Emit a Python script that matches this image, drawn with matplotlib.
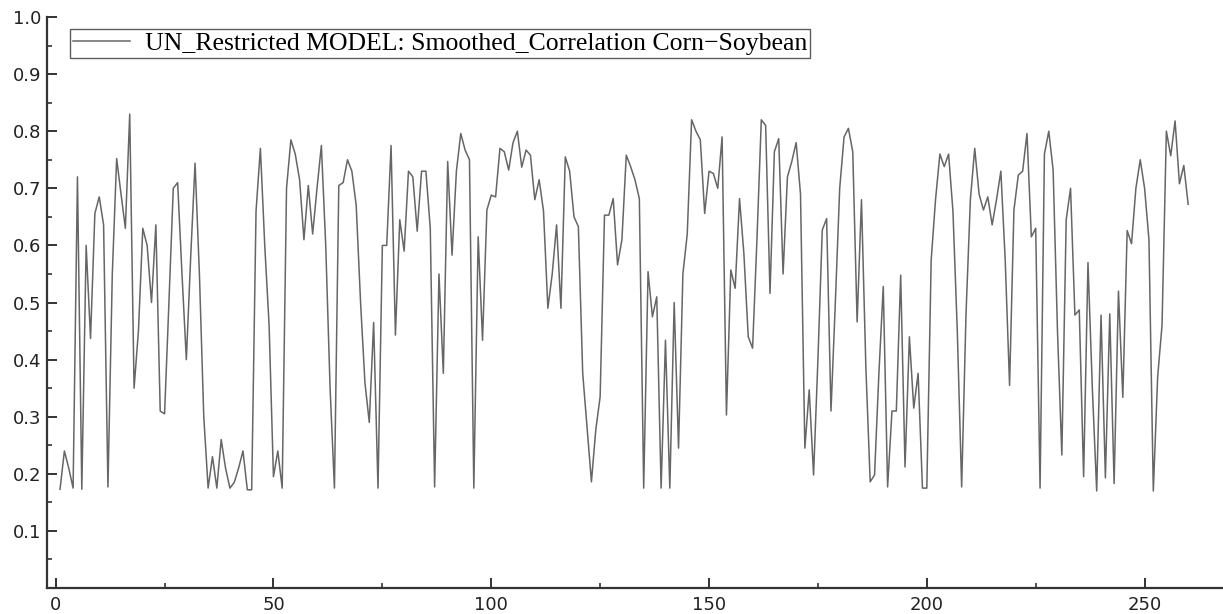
import matplotlib
matplotlib.use("Agg")
import matplotlib.pyplot as plt
from matplotlib.ticker import MultipleLocator
import numpy as np

# smoothed correlation, t = 1 .. 260
corr = [
    0.173, 0.24, 0.21, 0.175, 0.72, 0.173, 0.60, 0.437, 0.656, 0.685,    # 1-10
    0.636, 0.177, 0.55, 0.752, 0.69, 0.63, 0.83, 0.35, 0.45, 0.63,       # 11-20
    0.60, 0.50, 0.636, 0.31, 0.305, 0.50, 0.70, 0.71, 0.55, 0.40,        # 21-30
    0.58, 0.744, 0.55, 0.30, 0.175, 0.23, 0.175, 0.26, 0.21, 0.175,      # 31-40
    0.185, 0.21, 0.24, 0.172, 0.172, 0.66, 0.77, 0.60, 0.46, 0.195,      # 41-50
    0.24, 0.175, 0.70, 0.785, 0.76, 0.715, 0.61, 0.705, 0.62, 0.70,      # 51-60
    0.775, 0.60, 0.35, 0.175, 0.705, 0.71, 0.75, 0.73, 0.67, 0.50,       # 61-70
    0.36, 0.29, 0.465, 0.175, 0.60, 0.60, 0.775, 0.443, 0.645, 0.59,     # 71-80
    0.73, 0.72, 0.625, 0.73, 0.73, 0.63, 0.177, 0.55, 0.376, 0.747,      # 81-90
    0.583, 0.73, 0.796, 0.767, 0.75, 0.175, 0.615, 0.434, 0.662, 0.688,  # 91-100
    0.685, 0.77, 0.764, 0.732, 0.78, 0.80, 0.737, 0.767, 0.758, 0.68,    # 101-110
    0.715, 0.66, 0.49, 0.55, 0.636, 0.49, 0.755, 0.73, 0.65, 0.633,      # 111-120
    0.376, 0.28, 0.186, 0.277, 0.335, 0.653, 0.653, 0.682, 0.566, 0.61,  # 121-130
    0.758, 0.738, 0.715, 0.682, 0.175, 0.554, 0.475, 0.51, 0.175, 0.434, # 131-140
    0.175, 0.50, 0.245, 0.55, 0.62, 0.82, 0.80, 0.785, 0.656, 0.73,      # 141-150
    0.726, 0.70, 0.79, 0.303, 0.557, 0.525, 0.682, 0.586, 0.44, 0.42,    # 151-160
    0.61, 0.82, 0.81, 0.516, 0.764, 0.787, 0.55, 0.72, 0.747, 0.78,      # 161-170
    0.69, 0.245, 0.347, 0.198, 0.40, 0.627, 0.647, 0.31, 0.50, 0.70,     # 171-180
    0.79, 0.805, 0.764, 0.466, 0.68, 0.388, 0.186, 0.198, 0.376, 0.528,  # 181-190
    0.177, 0.31, 0.31, 0.548, 0.212, 0.44, 0.315, 0.376, 0.175, 0.175,   # 191-200
    0.574, 0.68, 0.76, 0.738, 0.76, 0.66, 0.45, 0.177, 0.48, 0.68,       # 201-210
    0.77, 0.69, 0.662, 0.685, 0.636, 0.68, 0.73, 0.574, 0.355, 0.662,    # 211-220
    0.723, 0.73, 0.796, 0.615, 0.63, 0.175, 0.76, 0.80, 0.732, 0.45,     # 221-230
    0.233, 0.645, 0.70, 0.478, 0.487, 0.195, 0.57, 0.35, 0.17, 0.478,    # 231-240
    0.193, 0.48, 0.183, 0.52, 0.334, 0.626, 0.603, 0.70, 0.75, 0.70,     # 241-250
    0.61, 0.17, 0.37, 0.46, 0.80, 0.757, 0.818, 0.708, 0.74, 0.672,      # 251-260
]
t = np.arange(1, len(corr) + 1)

label = "UN_Restricted MODEL: Smoothed_Correlation Corn\u2212Soybean"

fig = plt.figure(figsize=(12.23, 6.14), dpi=100)
ax = fig.add_axes([0.0384, 0.0423, 0.9616, 0.930])

ax.plot(t, corr, color="#666666", lw=1.1, label=label)

ax.set_xlim(-2, 268)
ax.set_ylim(0, 1.0)
ax.set_xticks([0, 50, 100, 150, 200, 250])
ax.xaxis.set_minor_locator(MultipleLocator(25))
ax.set_yticks(np.arange(0.1, 1.01, 0.1))
ax.set_yticklabels([f"{v:.1f}" for v in np.arange(0.1, 1.01, 0.1)])
ax.yaxis.set_minor_locator(MultipleLocator(0.05))

for s in ["top", "right"]:
    ax.spines[s].set_visible(False)
for s in ["left", "bottom"]:
    ax.spines[s].set_linewidth(1.6)
    ax.spines[s].set_color("#333333")

ax.tick_params(which="major", direction="in", length=7, width=1.4,
               colors="#333333", labelsize=13, labelcolor="#222222")
ax.tick_params(which="minor", direction="in", length=3.5, width=1.2, colors="#333333")
ax.tick_params(axis="x", pad=6)
ax.tick_params(axis="y", pad=4)

leg = ax.legend(loc="upper left", bbox_to_anchor=(0.0196, 0.979), borderaxespad=0,
                fancybox=False, frameon=True, handlelength=2.2, handletextpad=0.6,
                borderpad=0.12, prop={"family": "Liberation Serif", "size": 18.5})
leg.get_frame().set_edgecolor("#333333")
leg.get_frame().set_linewidth(1.0)

fig.savefig("out.png", dpi=100)
